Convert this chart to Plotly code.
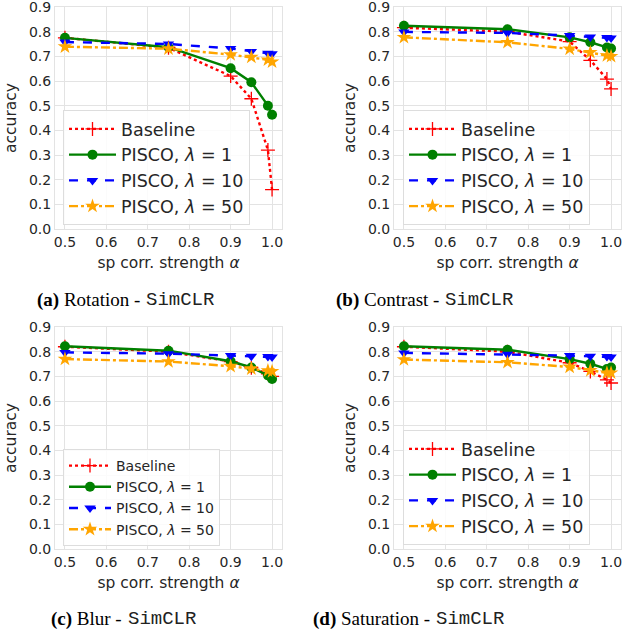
import plotly.graph_objects as go

# correlation strengths on the x axis
alpha = [0.5, 0.75, 0.9, 0.95, 0.99, 1.0]

# accuracy per augmentation: Baseline, PISCO lambda=1, 10, 50
rot_base = [0.775, 0.735, 0.62, 0.528, 0.32, 0.16]
rot_l1 = [0.775, 0.737, 0.652, 0.595, 0.50, 0.463]
rot_l10 = [0.758, 0.75, 0.732, 0.72, 0.713, 0.71]
rot_l50 = [0.739, 0.731, 0.707, 0.697, 0.686, 0.678]

con_base = [0.816, 0.80, 0.76, 0.684, 0.608, 0.568]
con_l1 = [0.824, 0.81, 0.777, 0.757, 0.736, 0.732]
con_l10 = [0.799, 0.795, 0.784, 0.778, 0.776, 0.774]
con_l50 = [0.777, 0.757, 0.73, 0.716, 0.703, 0.70]

blur_base = [0.82, 0.80, 0.76, 0.735, 0.71, 0.70]
blur_l1 = [0.822, 0.804, 0.761, 0.736, 0.704, 0.689]
blur_l10 = [0.797, 0.792, 0.784, 0.781, 0.78, 0.778]
blur_l50 = [0.77, 0.76, 0.741, 0.731, 0.723, 0.72]

sat_base = [0.82, 0.80, 0.755, 0.72, 0.686, 0.673]
sat_l1 = [0.822, 0.808, 0.77, 0.751, 0.73, 0.736]
sat_l10 = [0.795, 0.79, 0.784, 0.781, 0.78, 0.778]
sat_l50 = [0.768, 0.757, 0.738, 0.724, 0.714, 0.714]

panels = [
    ("Rotation", [rot_base, rot_l1, rot_l10, rot_l50]),
    ("Contrast", [con_base, con_l1, con_l10, con_l50]),
    ("Blur", [blur_base, blur_l1, blur_l10, blur_l50]),
    ("Saturation", [sat_base, sat_l1, sat_l10, sat_l50]),
]
series_names = ["Baseline", "PISCO, <i>λ</i> = 1", "PISCO, <i>λ</i> = 10", "PISCO, <i>λ</i> = 50"]
x_ticks = [0.5, 0.6, 0.7, 0.8, 0.9, 1.0]
y_ticks = [0.0, 0.1, 0.2, 0.3, 0.4, 0.5, 0.6, 0.7, 0.8, 0.9]

W, H = 622, 638
styles = [
    dict(color="#ff0000", dash="dot", symbol="cross-thin", size=10, mlw=1.3),
    dict(color="#008000", dash="solid", symbol="circle", size=10, mlw=0),
    dict(color="#0000ff", dash="dash", symbol="triangle-down", size=10, mlw=0),
    dict(color="#ffa500", dash="dashdot", symbol="star", size=11, mlw=0),
]

# plot-area boxes in pixels: (left, right, top, bottom)
boxes = [(55, 282, 7, 229), (394, 621, 7, 229), (55, 282, 327, 549), (394, 621, 327, 549)]
# legend boxes: (left px, top px, font size, item width)
legends = [(63, 110, 17.5, 47), (403, 110, 17.5, 47), (63, 449, 14, 42), (403, 430, 17.5, 47)]
# captions: letter, word, split x (px), centre y (px)
captions = [("a", "Rotation", 142, 300), ("b", "Contrast", 441, 300),
            ("c", "Blur", 124, 619), ("d", "Saturation", 432, 619)]

fig = go.Figure()
layout = dict(
    width=W, height=H, margin=dict(l=0, r=0, t=0, b=0),
    paper_bgcolor="white", plot_bgcolor="white",
    font=dict(family="DejaVu Sans", color="#262626"),
    annotations=[],
)

grid = "#e3e3e3"
for i, (name, data) in enumerate(panels):
    k = "" if i == 0 else str(i + 1)
    l, r, t, b = boxes[i]
    xa = dict(
        domain=[l / W, r / W], range=[0.476, 1.024], anchor="y" + k,
        tickvals=x_ticks, ticktext=[f"{v:.1f}" for v in x_ticks],
        showgrid=True, gridcolor=grid, gridwidth=1, zeroline=False,
        showline=True, linecolor=grid, linewidth=1, mirror=True,
        ticks="", tickfont=dict(size=14, color="#262626"), ticklabeloverflow="allow",
        title=dict(text="sp corr. strength <i>α</i>", font=dict(size=15.5), standoff=8),
        automargin=False, fixedrange=True,
    )
    ya = dict(
        domain=[1 - b / H, 1 - t / H], range=[0, 0.9], anchor="x" + k,
        tickvals=y_ticks, ticktext=[f"{v:.1f}" for v in y_ticks],
        showgrid=True, gridcolor=grid, gridwidth=1, zeroline=False,
        showline=True, linecolor=grid, linewidth=1, mirror=True,
        ticks="", tickfont=dict(size=14, color="#262626"), ticklabeloverflow="allow",
        title=dict(text="accuracy", font=dict(size=15.5), standoff=8),
        automargin=False, fixedrange=True,
    )
    layout["xaxis" + k] = xa
    layout["yaxis" + k] = ya

    lg_name = "legend" + k
    lx, ly, fs, iw = legends[i]
    layout[lg_name] = dict(
        x=lx / W, y=1 - ly / H, xanchor="left", yanchor="top",
        xref="paper", yref="paper",
        bgcolor="rgba(255,255,255,0.85)", bordercolor="#dddddd", borderwidth=1,
        font=dict(size=fs, color="#262626"), itemwidth=iw,
        tracegroupgap=0,
    )

    for j, vals in enumerate(data):
        s = styles[j]
        fig.add_trace(go.Scatter(
            x=alpha, y=vals, mode="lines+markers", name=series_names[j],
            line=dict(color=s["color"], dash=s["dash"], width=2.4),
            marker=dict(symbol=s["symbol"], size=s["size"], color=s["color"],
                        line=dict(color=s["color"], width=s["mlw"])),
            xaxis="x" + k, yaxis="y" + k, legend=lg_name,
        ))

    letter, word, sx, cy = captions[i]
    layout["annotations"].append(dict(
        text=f"<b>({letter})</b> {word} -",
        x=sx / W, y=1 - cy / H, xref="paper", yref="paper",
        xanchor="right", yanchor="middle", showarrow=False,
        font=dict(family="Liberation Serif", size=19, color="black"),
    ))
    layout["annotations"].append(dict(
        text="SimCLR",
        x=(sx + 2) / W, y=1 - cy / H, xref="paper", yref="paper",
        xanchor="left", yanchor="middle", showarrow=False,
        font=dict(family="Liberation Mono", size=19, color="#222222"),
    ))

fig.update_layout(**layout)
fig.write_html("out.html")
